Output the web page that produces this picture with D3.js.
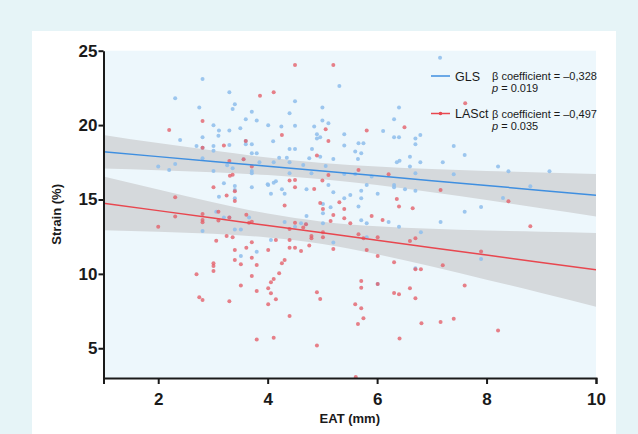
<!DOCTYPE html>
<meta charset="utf-8">
<style>
  body { margin: 0; background: #e6f4f7; }
  text { font-family: "Liberation Sans", Arial, sans-serif; fill: #1a1a1a; }
  .axis path, .axis line { stroke: #1a1a1a; stroke-width: 2px; }
  .axis text { font-size: 17px; font-weight: bold; }
</style>
<svg width="638" height="434"></svg>
<script src="https://cdn.jsdelivr.net/npm/d3@7"></script>
<script>
// data
const glsPoints = [
  [2.81,23.10],[2.31,21.80],[3.30,22.20],[3.40,21.40],[2.75,21.19],[3.36,21.08],[3.71,20.90],[3.60,20.39],
  [3.80,20.30],[3.01,19.99],[3.11,19.63],[3.30,19.63],[3.50,19.78],[4.01,19.99],[4.25,19.90],[2.40,19.00],
  [3.10,19.29],[2.81,19.18],[4.10,18.91],[2.70,18.60],[3.01,18.60],[3.30,18.66],[3.60,18.71],[3.71,18.71],
  [3.71,18.10],[3.80,18.10],[3.01,18.28],[2.81,17.77],[4.40,18.39],[4.21,17.81],[4.11,17.50],[4.35,17.81],
  [4.40,17.50],[3.85,17.50],[2.00,17.21],[2.31,17.39],[2.20,16.98],[3.26,17.30],[3.36,17.10],[3.01,16.92],
  [3.71,16.92],[3.71,16.76],[3.20,16.09],[4.40,16.76],[4.40,20.79],[3.56,17.70],[3.60,18.93],[2.81,18.48],
  [4.00,16.02],[4.11,16.13],[4.15,16.22],
  [7.15,24.53],[5.31,22.63],[4.50,21.60],[5.00,21.19],[6.40,21.19],[4.50,19.96],[5.00,20.30],[5.11,20.12],
  [4.85,19.90],[6.31,20.39],[4.90,19.38],[4.90,19.09],[4.96,19.18],[5.40,19.38],[6.11,19.60],[6.31,19.18],
  [6.40,19.18],[6.79,19.34],[6.70,19.09],[6.70,18.71],[4.50,18.39],[4.81,18.39],[5.40,18.62],[5.66,18.78],
  [5.75,18.78],[5.60,18.22],[5.71,18.10],[5.20,17.72],[5.65,17.72],[4.76,17.77],[4.96,17.88],[6.60,17.88],
  [6.41,17.61],[6.36,17.50],[6.79,17.50],[6.60,17.21],[7.20,17.50],[7.40,18.60],[7.60,17.99],[4.65,17.32],
  [4.80,16.76],[5.06,17.25],[5.40,16.71],[5.60,16.71],[5.90,16.54],[6.70,16.76],[7.40,16.69],
  [3.40,15.91],[3.40,15.64],[3.71,15.82],[4.01,15.97],[4.06,15.39],[4.26,15.68],[4.31,15.39],[3.11,15.19],
  [3.40,15.08],[3.06,14.18],[3.20,13.78],[3.66,13.78],[2.81,12.88],[3.40,12.99],[3.51,12.99],[4.06,12.28],
  [4.31,13.49],[3.80,11.49],[3.51,11.20],[3.30,13.78],
  [5.11,15.97],[4.71,15.68],[5.20,15.48],[5.51,15.30],[5.40,15.08],[5.71,15.59],[5.71,15.08],[5.81,15.97],
  [6.01,15.39],[6.31,15.97],[6.31,15.82],[6.51,15.68],[6.70,15.59],[5.01,14.70],[5.01,14.07],[5.15,14.47],
  [5.66,14.52],[4.71,13.89],[5.01,13.40],[5.71,13.60],[5.81,13.40],[6.21,13.49],[6.40,13.17],[4.50,13.17],
  [4.61,13.40],[4.70,13.33],[5.20,12.10],[5.81,12.46],[6.80,12.79],[7.16,13.49],[7.60,14.18],[6.70,10.37],
  [6.01,9.32],
  [8.21,17.21],[8.40,16.89],[9.15,16.89],[8.80,15.89],[8.30,15.10],[7.90,14.50],[7.90,11.00]
];

const lasPoints = [
  [2.20,19.67],[2.81,20.28],[3.86,21.98],[4.11,22.20],[3.20,18.62],[3.60,18.93],[2.81,18.48],[3.71,17.21],
  [3.30,17.59],[3.36,16.67],[3.31,16.60],[4.26,19.34],[4.40,16.27],[3.56,17.70],
  [4.50,24.04],[5.20,24.04],[7.61,21.46],[5.81,19.63],[6.50,19.85],[5.06,19.72],[5.11,18.93],[4.90,17.95],
  [5.66,16.98],[5.11,16.65],[6.21,16.69],[5.00,16.27],[4.50,16.31],
  [3.01,15.82],[3.25,15.26],[3.40,15.55],[3.40,14.90],[2.31,15.15],[4.31,14.59],[2.31,13.85],[2.81,14.03],
  [2.81,13.62],[2.81,13.47],[3.10,14.18],[3.10,13.58],[3.30,13.78],[3.61,13.98],[3.71,13.51],[3.66,13.44],
  [2.00,13.17],[4.40,13.02],[3.06,12.23],[3.25,12.55],[3.36,12.46],[3.71,12.12],[3.61,11.76],[3.40,11.61],
  [3.40,10.93],[3.71,11.09],[3.51,10.64],[3.80,10.60],[4.01,11.61],[4.15,12.28],[4.40,12.28],[4.40,11.76],
  [4.31,10.93],[4.26,10.71],[4.21,10.04],[4.11,9.66],[4.06,9.43],[4.01,9.03],[4.06,8.69],[4.15,8.29],
  [4.01,7.95],[3.80,8.85],[3.51,9.21],[3.71,9.86],[3.01,10.71],[3.01,10.53],[3.01,10.19],[2.70,9.97],
  [2.75,8.42],[2.81,8.25],[3.30,8.16],[4.40,7.17],[3.80,5.58],[4.11,5.71],
  [4.50,15.82],[4.85,15.71],[4.96,14.76],[5.01,14.36],[5.31,14.81],[5.40,14.36],[5.20,13.96],[5.40,13.73],
  [5.15,13.55],[5.51,13.40],[5.90,13.89],[6.10,13.62],[6.36,15.03],[6.40,14.52],[6.65,14.41],[4.50,13.44],
  [4.50,11.76],[4.61,11.54],[4.65,13.11],[4.80,12.55],[4.80,12.39],[4.76,11.90],[5.01,12.79],[5.01,12.46],
  [5.20,11.67],[5.66,12.66],[5.75,12.39],[6.01,12.46],[5.81,11.61],[6.01,11.20],[6.60,12.21],[6.70,12.39],
  [6.31,10.78],[6.70,10.31],[6.80,10.31],[7.20,10.58],[7.60,9.21],[5.71,9.52],[5.71,9.07],[4.90,8.76],
  [4.96,8.31],[6.31,8.72],[6.40,8.63],[6.60,9.03],[6.70,8.36],[5.60,7.95],[5.71,7.69],[5.75,7.01],
  [5.65,6.63],[6.41,5.65],[4.90,5.18],[6.81,6.68],[7.16,6.77],[7.40,6.99],[7.16,15.64],[4.70,13.33],
  [6.01,9.32],
  [8.40,14.88],[8.80,13.20],[7.90,11.50],[8.21,6.19],[5.61,3.06]
];

// fitted lines and 95% CI bands
const bandX  = [1, 2, 3, 4, 5, 6, 7, 8, 9, 10];
const glsFit = [18.21, 17.88, 17.56, 17.23, 16.91, 16.59, 16.26, 15.94, 15.61, 15.29];
const glsLo  = [17.08, 16.97, 16.83, 16.64, 16.36, 15.97, 15.48, 14.96, 14.41, 13.86];
const glsHi  = [19.34, 18.79, 18.29, 17.82, 17.46, 17.21, 17.04, 16.92, 16.81, 16.72];
const lasFit = [14.74, 14.25, 13.75, 13.25, 12.76, 12.26, 11.76, 11.26, 10.77, 10.27];
const lasLo  = [12.93, 12.83, 12.69, 12.45, 12.01, 11.32, 10.49, 9.61, 8.71, 7.79];
const lasHi  = [16.55, 15.67, 14.81, 14.05, 13.51, 13.20, 13.03, 12.91, 12.83, 12.75];

const xTicks = [2, 4, 6, 8, 10];
const yTicks = [5, 10, 15, 20, 25];

const svg = d3.select("svg");
const blue = "#3f8fe0", red = "#e8474f";

// white panel
svg.append("rect").attr("x", 32).attr("y", 31).attr("width", 584).attr("height", 410).attr("fill", "#fff");

const x = d3.scaleLinear().domain([1, 10]).range([103.5, 596]);
const y = d3.scaleLinear().domain([3, 25]).range([378, 50.7]);

svg.append("rect")
  .attr("x", x(1)).attr("y", y(25))
  .attr("width", x(10) - x(1)).attr("height", y(3) - y(25))
  .attr("fill", "#edf7fc");

svg.append("clipPath").attr("id", "clip")
  .append("rect")
  .attr("x", x(1)).attr("y", y(25))
  .attr("width", x(10) - x(1)).attr("height", y(3) - y(25));

const plot = svg.append("g").attr("clip-path", "url(#clip)");

function band(lo, hi) {
  return d3.area()
    .x((d, i) => x(bandX[i]))
    .y0((d, i) => y(lo[i]))
    .y1((d, i) => y(hi[i]))
    .curve(d3.curveNatural)(bandX);
}
plot.append("path").attr("d", band(glsLo, glsHi)).attr("fill", "#d5d9dc");
plot.append("path").attr("d", band(lasLo, lasHi)).attr("fill", "#d5d9dc");

plot.append("g")
  .selectAll("circle")
  .data(glsPoints)
  .enter().append("circle")
    .attr("cx", d => x(d[0]))
    .attr("cy", d => y(d[1]))
    .attr("r", 2)
    .attr("fill", "#92c0ec")
    .attr("opacity", 0.9);

plot.append("g")
  .selectAll("circle")
  .data(lasPoints)
  .enter().append("circle")
    .attr("cx", d => x(d[0]))
    .attr("cy", d => y(d[1]))
    .attr("r", 2)
    .attr("fill", "#e4606a")
    .attr("opacity", 0.8);

const fitLine = vals => d3.line()
  .x((d, i) => x(bandX[i]))
  .y((d, i) => y(vals[i]))(bandX);

plot.append("path").attr("d", fitLine(glsFit)).attr("fill", "none").attr("stroke", blue).attr("stroke-width", 1.5);
plot.append("path").attr("d", fitLine(lasFit)).attr("fill", "none").attr("stroke", red).attr("stroke-width", 1.5);

// axes
svg.append("g")
  .attr("class", "axis")
  .attr("transform", `translate(0,${y(3)})`)
  .call(d3.axisBottom(x).tickValues(xTicks).tickSize(6).tickPadding(9).tickSizeOuter(6));

svg.append("g")
  .attr("class", "axis")
  .attr("transform", `translate(${x(1)},0)`)
  .call(d3.axisLeft(y).tickValues(yTicks).tickSize(5).tickPadding(1).tickSizeOuter(0));

svg.selectAll(".axis .domain").attr("fill", "none");

svg.append("text")
  .attr("transform", `translate(61,${(y(3) + y(25)) / 2}) rotate(-90)`)
  .attr("text-anchor", "middle")
  .attr("font-size", 13).attr("font-weight", "bold")
  .text("Strain (%)");

svg.append("text")
  .attr("x", (x(1) + x(10)) / 2).attr("y", 423)
  .attr("text-anchor", "middle")
  .attr("font-size", 13).attr("font-weight", "bold")
  .text("EAT (mm)");

// legend
const legend = [
  { name: "GLS", color: blue, beta: "β coefficient = \u20130,328", p: " = 0.019", dot: false, yy: 76 },
  { name: "LASct", color: red, beta: "β coefficient = \u20130,497", p: " = 0.035", dot: true, yy: 113.5 }
];
const lg = svg.append("g");
legend.forEach(l => {
  lg.append("line").attr("x1", 431).attr("x2", 450).attr("y1", l.yy).attr("y2", l.yy)
    .attr("stroke", l.color).attr("stroke-width", 1.5);
  if (l.dot) lg.append("circle").attr("cx", 440.5).attr("cy", l.yy).attr("r", 1.8).attr("fill", l.color);
  lg.append("text").attr("x", 455).attr("y", l.yy + 4.5).attr("font-size", 12.5).text(l.name);
  lg.append("text").attr("x", 492).attr("y", l.yy + 4).attr("font-size", 11).text(l.beta);
  const t = lg.append("text").attr("x", 492).attr("y", l.yy + 16).attr("font-size", 11);
  t.append("tspan").attr("font-style", "italic").text("p");
  t.append("tspan").text(l.p);
});
</script>
